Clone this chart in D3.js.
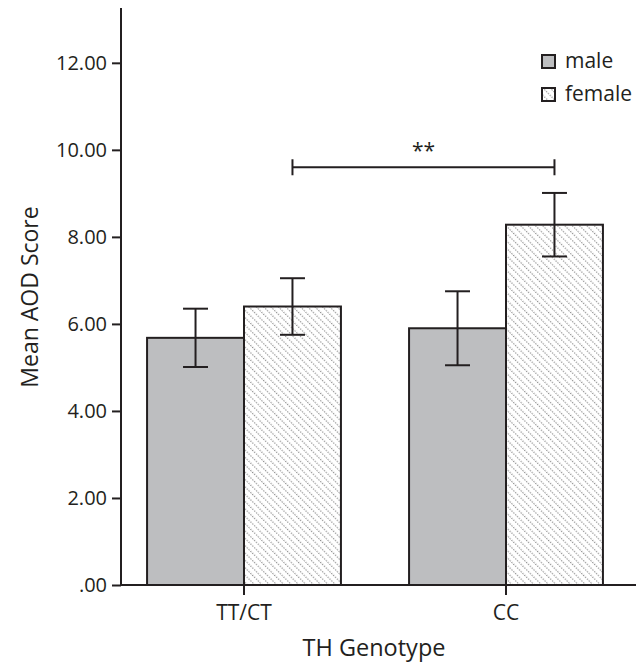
<!DOCTYPE html>
<html><head><meta charset="utf-8">
<script src="https://cdn.jsdelivr.net/npm/d3@7"></script>
<style>body{margin:0;background:#fff}svg{display:block}</style>
</head><body>
<svg id="c" width="636" height="665"></svg>
<script>
const categories = ["TT/CT", "CC"];
const groups = ["male", "female"];
const meanMale = [5.68, 5.90];
const meanFemale = [6.40, 8.28];
const errMale = [0.67, 0.85];
const errFemale = [0.65, 0.73];
const yTicks = [0, 2, 4, 6, 8, 10, 12];
const sigLevel = 9.6;
const sigLabel = "**";

const ink = "#231f20";
const grayFill = "#bdbec0";
const font = "'Open Sans', 'Noto Sans', sans-serif";

const svg = d3.select("#c");
const y = d3.scaleLinear().domain([0, 13.26]).range([585, 8]);
const x0 = d3.scaleBand().domain(categories).range([113, 637]).paddingInner(0.26).paddingOuter(0.13);
const x1 = d3.scaleBand().domain(groups).range([0, x0.bandwidth()]);

const defs = svg.append("defs");
const pat = defs.append("pattern").attr("id", "hatch").attr("patternUnits", "userSpaceOnUse")
  .attr("width", 5.2).attr("height", 5.2).attr("patternTransform", "rotate(-45)");
pat.append("rect").attr("width", 5.2).attr("height", 5.2).attr("fill", "#fff");
pat.append("line").attr("x1", 0.6).attr("y1", 0).attr("x2", 0.6).attr("y2", 5.2)
  .attr("stroke", "#8a8a8a").attr("stroke-width", 1.1).attr("stroke-dasharray", "1.3,1.3");

const data = [];
categories.forEach((c, i) => {
  data.push({cat: c, g: "male", v: meanMale[i], e: errMale[i]});
  data.push({cat: c, g: "female", v: meanFemale[i], e: errFemale[i]});
});

// bars
svg.append("g").selectAll("rect").data(data).join("rect")
  .attr("x", d => x0(d.cat) + x1(d.g))
  .attr("y", d => y(d.v))
  .attr("width", x1.bandwidth())
  .attr("height", d => y(0) - y(d.v))
  .attr("fill", d => d.g === "male" ? grayFill : "url(#hatch)")
  .attr("stroke", ink).attr("stroke-width", 2);

// error bars
const cap = 12.5;
const eb = svg.append("g").attr("stroke", ink).attr("stroke-width", 2);
data.forEach(d => {
  const cx = x0(d.cat) + x1(d.g) + x1.bandwidth() / 2;
  eb.append("line").attr("x1", cx).attr("x2", cx).attr("y1", y(d.v + d.e)).attr("y2", y(d.v - d.e));
  eb.append("line").attr("x1", cx - cap).attr("x2", cx + cap).attr("y1", y(d.v + d.e)).attr("y2", y(d.v + d.e));
  eb.append("line").attr("x1", cx - cap).attr("x2", cx + cap).attr("y1", y(d.v - d.e)).attr("y2", y(d.v - d.e));
});

// y axis
const yAxis = d3.axisLeft(y).tickValues(yTicks).tickSize(9).tickPadding(5)
  .tickFormat(d => d === 0 ? ".00" : d3.format(".2f")(d));
const gy = svg.append("g").attr("transform", "translate(121,0)").call(yAxis);
gy.select(".domain").remove();
gy.append("line").attr("x1", 0).attr("x2", 0).attr("y1", y(13.26)).attr("y2", y(0) + 1).attr("stroke", ink).attr("stroke-width", 2);
gy.selectAll(".tick line").attr("stroke", ink).attr("stroke-width", 2);
gy.selectAll(".tick text").attr("fill", ink).style("font-family", font).style("font-size", "20px");

// x axis
const xAxis = d3.axisBottom(x0).tickSize(10).tickPadding(10);
const gx = svg.append("g").attr("transform", `translate(0,${y(0)})`).call(xAxis);
gx.select(".domain").remove();
gx.append("line").attr("x1", 121).attr("x2", 636).attr("y1", 0).attr("y2", 0).attr("stroke", ink).attr("stroke-width", 2);
gx.selectAll(".tick line").attr("stroke", ink).attr("stroke-width", 2);
gx.selectAll(".tick text").attr("fill", ink).style("font-family", font).style("font-size", "21px");

// axis titles
svg.append("text").attr("x", 374).attr("y", 656).attr("text-anchor", "middle")
  .attr("fill", ink).style("font-family", font).style("font-size", "23.5px").text("TH Genotype");
svg.append("text").attr("transform", "translate(38,297) rotate(-90)").attr("text-anchor", "middle")
  .attr("fill", ink).style("font-family", font).style("font-size", "23px").text("Mean AOD Score");

// significance bracket
const xa = x0(categories[0]) + x1("female") + x1.bandwidth() / 2;
const xb = x0(categories[1]) + x1("female") + x1.bandwidth() / 2;
const sg = svg.append("g").attr("stroke", ink).attr("stroke-width", 2);
sg.append("line").attr("x1", xa).attr("x2", xb).attr("y1", y(sigLevel)).attr("y2", y(sigLevel));
sg.append("line").attr("x1", xa).attr("x2", xa).attr("y1", y(sigLevel) - 8).attr("y2", y(sigLevel) + 8);
sg.append("line").attr("x1", xb).attr("x2", xb).attr("y1", y(sigLevel) - 8).attr("y2", y(sigLevel) + 8);
svg.append("text").attr("x", (xa + xb) / 2).attr("y", y(sigLevel) - 9).attr("text-anchor", "middle")
  .attr("fill", ink).style("font-family", font).style("font-size", "21px").text(sigLabel);

// legend
const lg = svg.append("g").attr("transform", "translate(542,55)");
groups.forEach((g, i) => {
  const row = lg.append("g").attr("transform", `translate(0,${i * 33})`);
  row.append("rect").attr("width", 13).attr("height", 13)
    .attr("fill", g === "male" ? grayFill : "url(#hatch)").attr("stroke", ink).attr("stroke-width", 2);
  row.append("text").attr("x", 23).attr("y", 13).attr("fill", ink)
    .style("font-family", font).style("font-size", "21px").text(g);
});
</script>
</body></html>
